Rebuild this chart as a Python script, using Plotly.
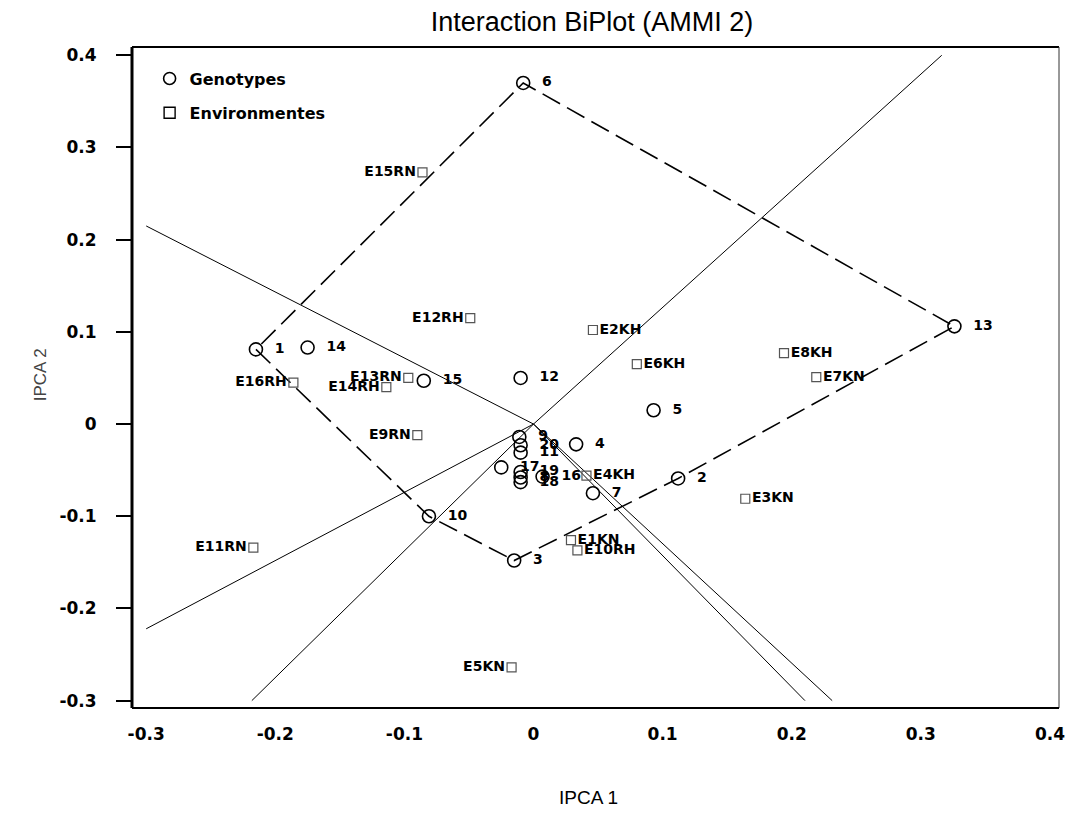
import plotly.graph_objects as go
import numpy as np

# ---------------- data ----------------
geno_labels = [str(i) for i in range(1, 21)]
geno_x = [-0.215, 0.112, -0.015, 0.033, 0.093, -0.008, 0.046, -0.010, -0.011, -0.081,
          -0.010, -0.010, 0.326, -0.175, -0.085, 0.007, -0.025, -0.010, -0.010, -0.010]
geno_y = [0.081, -0.059, -0.148, -0.022, 0.015, 0.370, -0.075, -0.058, -0.014, -0.100,
          -0.031, 0.050, 0.106, 0.083, 0.047, -0.057, -0.047, -0.063, -0.052, -0.023]

env_labels = ["E1KN", "E2KH", "E3KN", "E4KH", "E5KN", "E6KH", "E7KN", "E8KH",
              "E9RN", "E10RH", "E11RN", "E12RH", "E13RN", "E14RH", "E15RN", "E16RH"]
env_x = [0.029, 0.046, 0.164, 0.041, -0.017, 0.080, 0.219, 0.194,
         -0.090, 0.034, -0.217, -0.049, -0.097, -0.114, -0.086, -0.186]
env_y = [-0.126, 0.102, -0.081, -0.056, -0.264, 0.065, 0.051, 0.077,
         -0.012, -0.137, -0.134, 0.115, 0.050, 0.040, 0.273, 0.045]

tick_vals = [-0.3, -0.2, -0.1, 0, 0.1, 0.2, 0.3, 0.4]
tick_text = ["-0.3", "-0.2", "-0.1", "0", "0.1", "0.2", "0.3", "0.4"]
ray_box = (-0.3, 0.4)   # limits the perpendicular lines are drawn to

# ---------------- derived geometry ----------------
def convex_hull(pts):
    pts = sorted(set(pts))
    def cross(o, a, b):
        return (a[0]-o[0])*(b[1]-o[1]) - (a[1]-o[1])*(b[0]-o[0])
    lower, upper = [], []
    for p in pts:
        while len(lower) >= 2 and cross(lower[-2], lower[-1], p) <= 0:
            lower.pop()
        lower.append(p)
    for p in reversed(pts):
        while len(upper) >= 2 and cross(upper[-2], upper[-1], p) <= 0:
            upper.pop()
        upper.append(p)
    return lower[:-1] + upper[:-1]

hull = convex_hull(list(zip(geno_x, geno_y)))
hull_x = [p[0] for p in hull] + [hull[0][0]]
hull_y = [p[1] for p in hull] + [hull[0][1]]

ray_x, ray_y = [], []
for i in range(len(hull)):
    p = np.array(hull[i]); q = np.array(hull[(i + 1) % len(hull)])
    d = q - p
    n = np.array([d[1], -d[0]])
    if np.dot(n, (p + q) / 2) < 0:
        n = -n
    ts = []
    for k in range(2):
        if n[k] > 0:
            ts.append(ray_box[1] / n[k])
        elif n[k] < 0:
            ts.append(ray_box[0] / n[k])
    t = min(ts)
    e = n * t
    ray_x += [0, e[0], None]
    ray_y += [0, e[1], None]

env_pos = ["middle left" if x < 0 else "middle right" for x in env_x]
geno_text = ["\u00a0\u00a0" + s for s in geno_labels]

LAB_FONT = "DejaVu Sans"
fig = go.Figure()

fig.add_trace(go.Scatter(x=ray_x, y=ray_y, mode="lines",
                         line=dict(color="black", width=1), showlegend=False,
                         hoverinfo="skip"))
fig.add_trace(go.Scatter(x=hull_x, y=hull_y, mode="lines",
                         line=dict(color="black", width=1.6, dash="20px,8px"),
                         showlegend=False, hoverinfo="skip"))
fig.add_trace(go.Scatter(x=env_x, y=env_y, mode="markers+text", text=env_labels,
                         textposition=env_pos,
                         textfont=dict(family=LAB_FONT, size=14, color="black", weight="bold"),
                         marker=dict(symbol="square-open", size=9, color="#555",
                                     line=dict(width=1.2, color="#555")),
                         showlegend=False))
fig.add_trace(go.Scatter(x=geno_x, y=geno_y, mode="markers+text", text=geno_text,
                         textposition="middle right",
                         textfont=dict(family=LAB_FONT, size=14, color="black", weight="bold"),
                         marker=dict(symbol="circle-open", size=13, color="black",
                                     line=dict(width=1.6, color="black")),
                         showlegend=False))

# legend entries
fig.add_trace(go.Scatter(x=[None], y=[None], mode="markers", name="Genotypes",
                         marker=dict(symbol="circle-open", size=12, color="black",
                                     line=dict(width=1.6, color="black")),
                         legend="legend"))
fig.add_trace(go.Scatter(x=[None], y=[None], mode="markers", name="Environmentes",
                         marker=dict(symbol="square-open", size=11, color="black",
                                     line=dict(width=1.4, color="black")),
                         legend="legend2"))

tickfont = dict(family=LAB_FONT, size=17, color="black", weight="bold")
legfont = dict(family=LAB_FONT, size=16, color="black", weight="bold")
fig.update_layout(
    width=1077, height=827,
    margin=dict(l=132, r=15, t=47, b=119),
    plot_bgcolor="white", paper_bgcolor="white",
    title=dict(text="Interaction BiPlot (AMMI 2)", x=0.5497, xanchor="center",
               y=1 - 22 / 827, yanchor="middle",
               font=dict(family="Liberation Sans", size=27, color="black")),
    xaxis=dict(range=[-0.311, 0.407], tickvals=tick_vals, ticktext=tick_text,
               showgrid=False, zeroline=False, ticks="", showline=False,
               tickfont=tickfont, ticklabelstandoff=14),
    yaxis=dict(range=[-0.308, 0.409], tickvals=tick_vals, ticktext=tick_text,
               showgrid=False, zeroline=False, ticks="outside", ticklen=15,
               tickwidth=2, tickcolor="black", showline=False,
               tickfont=tickfont, ticklabelstandoff=16),
    legend=dict(x=0.019, y=0.978, xanchor="left", yanchor="top",
                bgcolor="rgba(0,0,0,0)", font=legfont),
    legend2=dict(x=0.019, y=0.926, xanchor="left", yanchor="top",
                 bgcolor="rgba(0,0,0,0)", font=legfont),
    showlegend=True,
    shapes=[
        dict(type="line", xref="x domain", yref="y domain", x0=0, x1=0, y0=0, y1=1,
             line=dict(color="black", width=3)),
        dict(type="line", xref="x domain", yref="y domain", x0=0, x1=1, y0=1, y1=1,
             line=dict(color="black", width=2)),
        dict(type="line", xref="x domain", yref="y domain", x0=1, x1=1, y0=0, y1=1,
             line=dict(color="#333", width=1)),
        dict(type="line", xref="x domain", yref="y domain", x0=0, x1=1, y0=0, y1=0,
             line=dict(color="black", width=2)),
    ],
    annotations=[
        dict(text="IPCA 1", xref="paper", yref="paper", x=(590 - 132) / 930,
             y=(708 - 797) / 661, showarrow=False, xanchor="center", yanchor="middle",
             font=dict(family="Liberation Sans", size=19, color="black")),
        dict(text="IPCA 2", xref="paper", yref="paper", x=(40 - 132) / 930,
             y=(708 - 375) / 661, showarrow=False, textangle=-90,
             xanchor="center", yanchor="middle",
             font=dict(family="Liberation Sans", size=17, color="#444")),
    ],
)

fig.write_html("out.html")
